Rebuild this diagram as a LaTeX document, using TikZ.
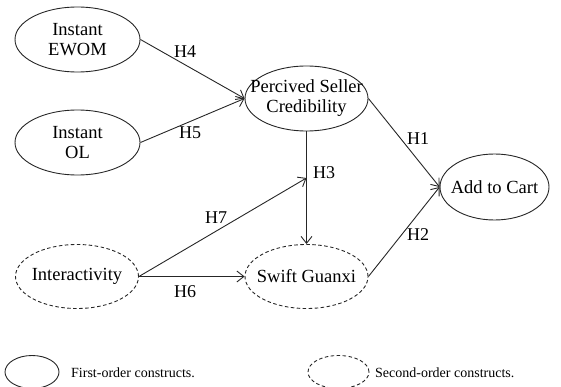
\documentclass[tikz,border=0pt]{standalone}
\usepackage{fontspec}
\setmainfont{Liberation Serif}
\usetikzlibrary{shapes.geometric,arrows.meta}
\begin{document}
\begin{tikzpicture}[x=1pt,y=-1pt,
  cons/.style={ellipse,draw=black!85,line width=0.9pt,inner sep=0pt},
  first/.style={cons},
  second/.style={cons,dashed,dash pattern=on 3.5pt off 2.5pt},
  ctext/.style={inner sep=0pt,align=center,font=\fontsize{18.5}{20}\selectfont},
  link/.style={draw=black!85,line width=0.9pt},
  arr/.style={link,-{Straight Barb[length=7pt,width=11pt,line width=0.9pt]}},
  hlab/.style={font=\fontsize{18}{20}\selectfont,inner sep=0pt},
  legtext/.style={font=\fontsize{14}{16}\selectfont,inner sep=0pt,anchor=west}]
\useasboundingbox (0,0) rectangle (561,387);
\node[first,minimum width=125pt,minimum height=65pt] (ewom) at (77.5,39.5) {};
\node[ctext] (ewomt) at (ewom.center) {Instant\\EWOM};
\node[first,minimum width=125pt,minimum height=65pt] (ol) at (77.5,142.5) {};
\node[ctext] (olt) at (ol.center) {Instant\\OL};
\node[first,minimum width=123pt,minimum height=65pt] (psc) at (306.5,98.5) {};
\node[ctext] (psct) at (psc.center) {Percived Seller\\Credibility};
\node[first,minimum width=109pt,minimum height=66pt] (cart) at (494.5,187) {};
\node[ctext] (cartt) at (cart.center) {Add to Cart};
\node[second,minimum width=123pt,minimum height=64pt] (sg) at (306.5,276.5) {};
\node[ctext] (sgt) at (sg.center) {Swift Guanxi};
\node[second,minimum width=123pt,minimum height=64pt] (inter) at (77,276.5) {};
\node[ctext] (intert) at (inter.center) {Interactivity};
\coordinate (h7end) at (306.5,178);

\draw[arr] (ewom.east) -- (psc.west);
\draw[arr] (ol.east) -- (psc.west);
\draw[arr] (psc.east) -- (cart.west);
\draw[arr] (sg.east) -- (cart.west);
\draw[arr] (psc.south) -- (sg.north);
\draw[arr] (inter.east) -- (sg.west);
\draw[arr] (inter.east) -- (h7end);

\node[hlab] (h4) at (185,52) {H4};
\node[hlab] (h5) at (190,133) {H5};
\node[hlab] (h1) at (418,139) {H1};
\node[hlab] (h2) at (418,235) {H2};
\node[hlab] (h3) at (324,173) {H3};
\node[hlab] (h7) at (216,218) {H7};
\node[hlab] (h6) at (185,292) {H6};

\node[first,minimum width=54pt,minimum height=33pt] (leg1) at (32,372) {};
\node[legtext] (leg1t) at (71,373) {First-order constructs.};
\node[second,minimum width=61pt,minimum height=33pt] (leg2) at (338.5,372) {};
\node[legtext] (leg2t) at (375,373) {Second-order constructs.};
\end{tikzpicture}
\end{document}
